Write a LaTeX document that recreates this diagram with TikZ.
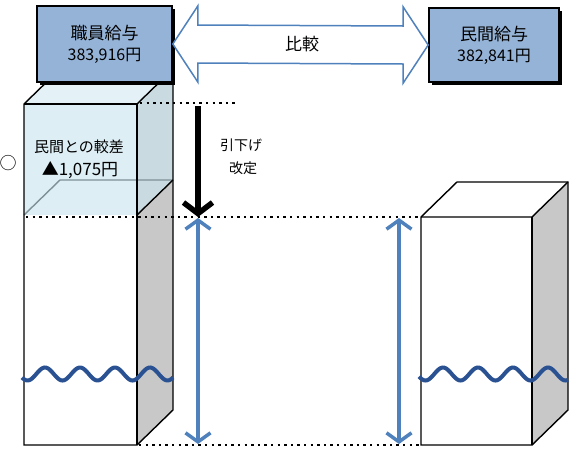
\documentclass[tikz,border=0pt]{standalone}
\usepackage{fontspec}
\setmainfont{Noto Sans CJK JP}
\usetikzlibrary{arrows.meta,shadows,calc}
\definecolor{boxblue}{HTML}{95B3D7}
\definecolor{arrowblue}{HTML}{4F81BD}
\definecolor{wavy}{HTML}{2A5293}
\definecolor{cfront}{HTML}{DDEEF4}
\definecolor{ctop}{HTML}{E4F1F6}
\definecolor{cside}{HTML}{C9DBE1}
\definecolor{sidegrey}{HTML}{C8C8C8}
\definecolor{innerline}{HTML}{7E9196}
\tikzset{
  salbox/.style={draw=black, line width=1.6pt, fill=boxblue, align=center,
    inner sep=0pt, drop shadow={shadow xshift=2.5pt, shadow yshift=-2.5pt, fill=black, opacity=1}},
  blockarrow/.style={draw=arrowblue, line width=1.5pt, fill=white, line join=miter},
  dotline/.style={line width=2.4pt, dash pattern=on 2.4pt off 4.2pt},
  bluearrow/.style={draw=arrowblue, line width=3.5pt,
    arrows={Straight Barb[length=9pt,width=25pt,line width=3.5pt]-Straight Barb[length=9pt,width=25pt,line width=3.5pt]}},
  blackarrow/.style={draw=black, line width=5.5pt,
    -{Straight Barb[length=11pt,width=29pt,line width=5.5pt]}},
  edge/.style={draw=black, line width=1.4pt, line join=miter},
  wave/.style={draw=wavy, line width=4pt},
  titletxt/.style={font=\fontsize{17}{20}\selectfont},
  numtxt/.style={font=\fontsize{17}{20}\selectfont},
  midtxt/.style={font=\fontsize{15}{18}\selectfont},
  smalltxt/.style={font=\fontsize{14}{17}\selectfont},
}
\begin{document}
\begin{tikzpicture}[x=1pt,y=-1pt]
\useasboundingbox (0,0) rectangle (576,448);

% ---------- left cuboid ----------
\fill[cfront] (24,104) rectangle (137,215);
\fill[ctop] (24,104) -- (60,69) -- (173,69) -- (137,104) -- cycle;
\fill[cside] (137,104) -- (173,69) -- (173,180) -- (137,215) -- cycle;
\fill[white] (24,215) rectangle (137,445);
\fill[sidegrey] (137,215) -- (173,180) -- (173,410) -- (137,445) -- cycle;
\draw[innerline, line width=1.4pt] (24,215) -- (60,180) -- (173,180);
\draw[edge] (24,445) -- (24,104) -- (60,69) -- (173,69) -- (173,410) -- (137,445) -- cycle;
\draw[edge] (137,104) -- (173,69);
\draw[edge] (137,215) -- (173,180);
\draw[edge, line width=2.6pt] (137,104) -- (137,445);
\draw[edge] (24,104) -- (137,104);

% ---------- right cuboid ----------
\fill[white] (421,217) -- (457,182) -- (568,182) -- (532,217) -- cycle;
\fill[white] (421,217) rectangle (532,445);
\fill[sidegrey] (532,217) -- (568,182) -- (568,410) -- (532,445) -- cycle;
\draw[edge] (421,445) -- (421,217) -- (457,182) -- (568,182) -- (568,410) -- (532,445) -- cycle;
\draw[edge] (421,217) -- (532,217) -- (568,182);
\draw[edge, line width=2.6pt] (532,217) -- (532,445);

% ---------- waves ----------
\draw[wave] plot[domain=22:173, samples=120, smooth] (\x, {374-6.5*cos(10.2857*(\x-45))});
\draw[wave] plot[domain=419:568, samples=120, smooth] (\x, {374-6.5*cos(10.2857*(\x-443))});

% ---------- dotted guide lines ----------
\coordinate (topL) at (140,103);
\coordinate (topR) at (237,103);
\coordinate (midL) at (26,217);
\coordinate (midR) at (421,217);
\coordinate (botL) at (139,445);
\coordinate (botR) at (421,445);
\draw[dotline] (topL) -- (topR);
\draw[dotline] (midL) -- (midR);
\draw[dotline] (botL) -- (botR);

% ---------- arrows ----------
\coordinate (bkTop) at (198,106);
\coordinate (bkTip) at (198,217);
\draw[blackarrow] (bkTop) -- (bkTip);
\coordinate (b1t) at (198,218);
\coordinate (b1b) at (198,444);
\coordinate (b2t) at (399,218);
\coordinate (b2b) at (399,444);
\draw[bluearrow] (b1t) -- (b1b);
\draw[bluearrow] (b2t) -- (b2b);

% ---------- salary boxes ----------
\node[salbox, minimum width=135pt, minimum height=76pt] (staff) at (104.5,44)
  {{\fontsize{17}{20}\selectfont 職員給与}\\[6pt]{\fontsize{16}{19}\selectfont 383,916円}};
\node[salbox, minimum width=130pt, minimum height=74pt] (priv) at (494,45)
  {{\fontsize{17}{20}\selectfont 民間給与}\\[6pt]{\fontsize{16}{19}\selectfont 382,841円}};

% ---------- comparison block arrow ----------
\draw[blockarrow] (staff.east) -- ++(25,-38) -- ++(0,19)
  -- ($(priv.west)+(-25,-19)$) -- ++(0,-19) -- (priv.west) -- ++(-25,38) -- ++(0,-19)
  -- ($(staff.east)+(25,19)$) -- ++(0,19) -- cycle;
\node[titletxt] (cmp) at (302,44) {比較};

% ---------- texts ----------
\node[midtxt] (gap1) at (79,147) {民間との較差};
\node[numtxt] (gap2) at (80,170) {▲1,075円};
\node[font=\fontsize{17}{20}\selectfont] (circ) at (8,163) {○};
\node[smalltxt] (rev1) at (241,145) {引下げ};
\node[smalltxt] (rev2) at (243,168) {改定};
\end{tikzpicture}
\end{document}
